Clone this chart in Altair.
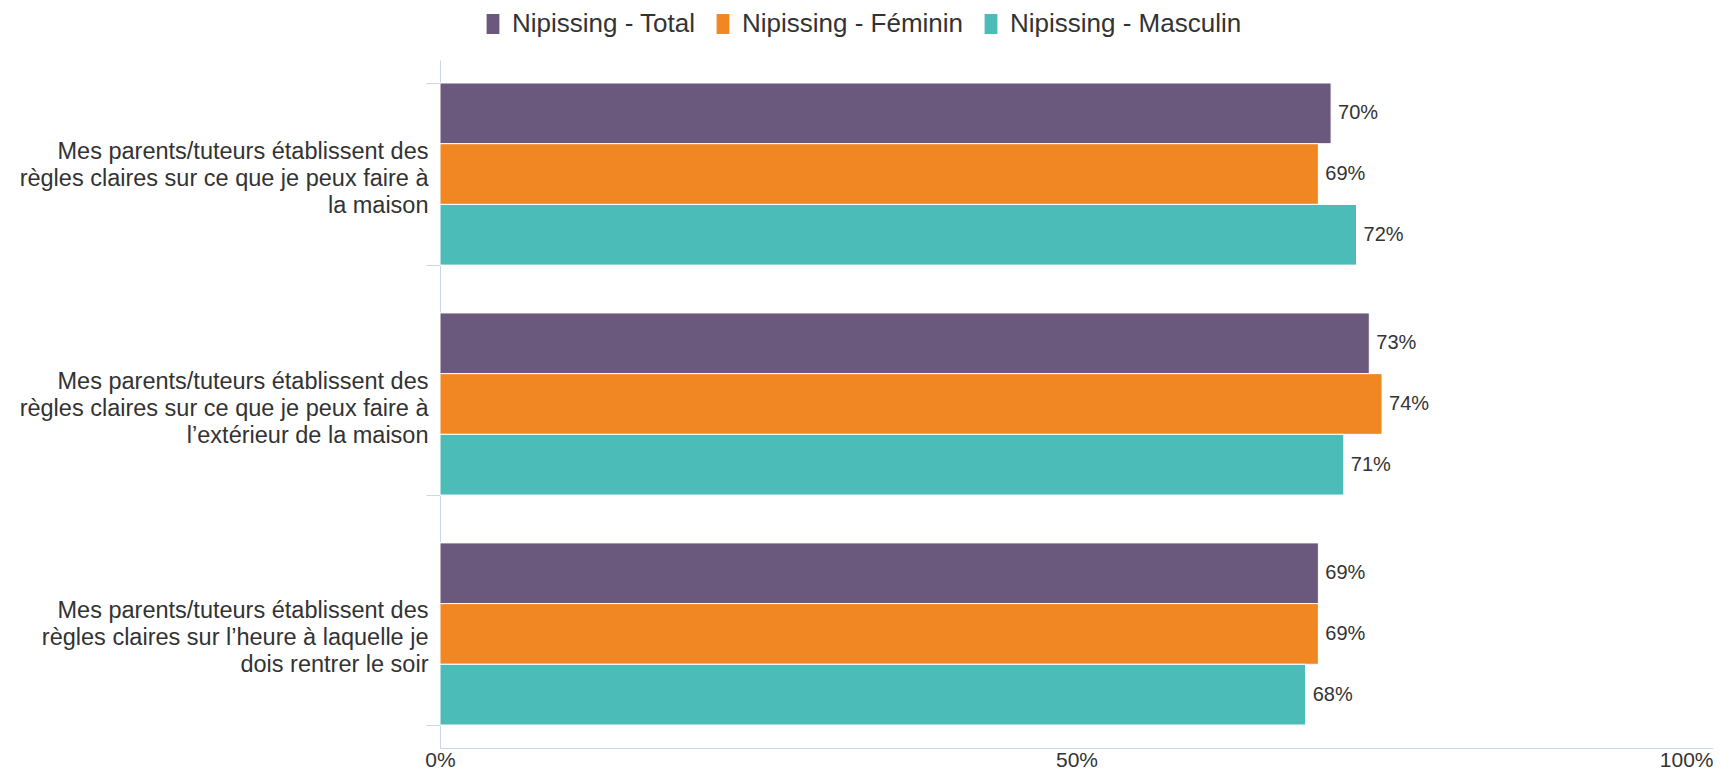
import altair as alt
import pandas as pd

questions = [
    "Mes parents/tuteurs établissent des|règles claires sur ce que je peux faire à|la maison",
    "Mes parents/tuteurs établissent des|règles claires sur ce que je peux faire à|l’extérieur de la maison",
    "Mes parents/tuteurs établissent des|règles claires sur l’heure à laquelle je|dois rentrer le soir",
]
series = ["Nipissing - Total", "Nipissing - Féminin", "Nipissing - Masculin"]
total = [0.70, 0.73, 0.69]
feminin = [0.69, 0.74, 0.69]
masculin = [0.72, 0.71, 0.68]
colors = ["#6a587d", "#f08723", "#4bbcb7"]
x_ticks = [0, 0.5, 1]

rows = []
for i, q in enumerate(questions):
    for s, vals in zip(series, [total, feminin, masculin]):
        rows.append({"question": q, "series": s, "value": vals[i]})
df = pd.DataFrame(rows)

FONT = "Liberation Sans"
AXIS_COLOR = "#ccd6eb"
TEXT_COLOR = "#333333"
LINE_H = 27

y_enc = alt.Y(
    "question:N",
    sort=questions,
    scale=alt.Scale(paddingInner=0.208, paddingOuter=0.1),
    axis=alt.Axis(
        title=None,
        tickBand="extent",
        tickSize=14,
        tickColor=AXIS_COLOR,
        domainColor=AXIS_COLOR,
        labelExpr="split(datum.label, '|')",
        labelFont=FONT,
        labelFontSize=23.5,
        labelLineHeight=LINE_H,
        labelLimit=0,
        labelPadding=-2,
        labelOffset=-LINE_H + 4,
        labelColor=TEXT_COLOR,
        labelAlign="right",
        labelBaseline="middle",
        grid=False,
    ),
)
yoff_enc = alt.YOffset("series:N", sort=series, scale=alt.Scale(paddingInner=0, paddingOuter=0))
x_enc = alt.X(
    "value:Q",
    scale=alt.Scale(domain=[0, 1], nice=False),
    axis=alt.Axis(
        title=None,
        values=x_ticks,
        format=".0%",
        grid=False,
        ticks=False,
        domainColor=AXIS_COLOR,
        labelFont=FONT,
        labelFontSize=21,
        labelColor=TEXT_COLOR,
        labelPadding=1,
        labelAlign={"expr": "datum.value == 1 ? 'right' : 'center'"},
    ),
)

bars = alt.Chart(df).mark_bar(stroke="white", strokeWidth=1).encode(
    x=x_enc,
    y=y_enc,
    yOffset=yoff_enc,
    color=alt.Color(
        "series:N",
        sort=series,
        scale=alt.Scale(domain=series, range=colors),
        legend=alt.Legend(
            title=None,
            orient="none",
            legendX=40,
            legendY=-49,
            direction="horizontal",
            symbolType="M-0.64,-1H0.64V1H-0.64Z",
            symbolSize=400,
            symbolStrokeWidth=0,
            symbolOpacity=1,
            labelFont=FONT,
            labelFontSize=26,
            labelColor=TEXT_COLOR,
            labelOffset=6,
            columnPadding=14,
            labelLimit=0,
        ),
    ),
)

labels = alt.Chart(df).mark_text(
    align="left", baseline="middle", dx=7, font=FONT, fontSize=20, color=TEXT_COLOR
).encode(
    x="value:Q",
    y=alt.Y("question:N", sort=questions),
    yOffset=alt.YOffset("series:N", sort=series),
    text=alt.Text("value:Q", format=".0%"),
)

chart = (
    alt.layer(bars, labels)
    .properties(
        width=1273,
        height=688,
        autosize=alt.AutoSizeParams(type="none"),
        padding={"left": 432, "top": 52, "right": 0, "bottom": 22},
    )
    .configure_view(stroke=None)
)

chart.save("out.html", embed_options={"renderer": "svg", "actions": False})
